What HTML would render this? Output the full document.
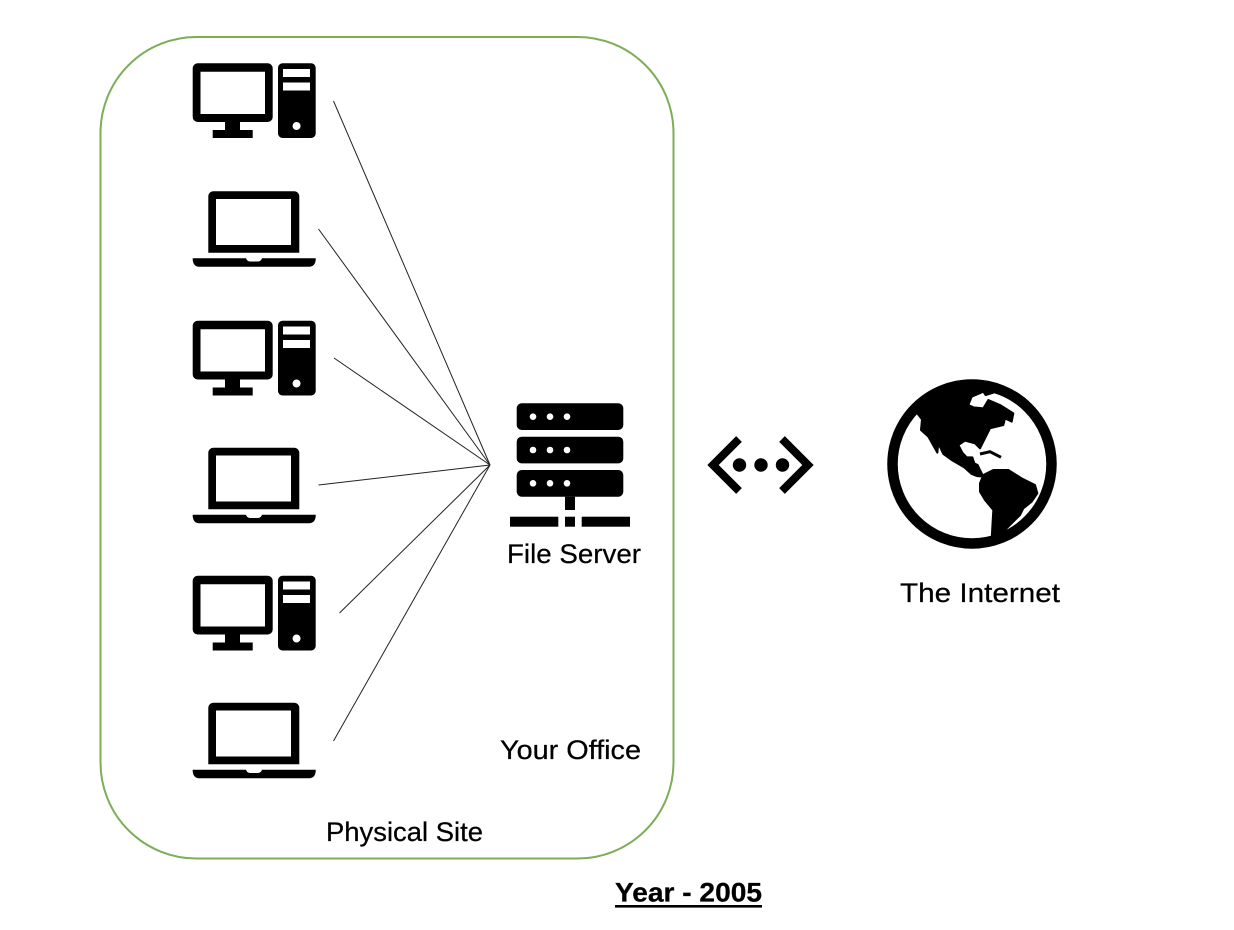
<!DOCTYPE html>
<html>
<head>
<meta charset="utf-8">
<style>
html,body{margin:0;padding:0;background:#fff;}
svg{display:block;}
text{font-family:"Liberation Sans",sans-serif;font-size:27px;fill:#000;stroke:#000;stroke-width:.25px;}
</style>
</head>
<body>
<svg width="1234" height="930" viewBox="0 0 1234 930" xmlns="http://www.w3.org/2000/svg">
<defs>
<g id="desk">
  <path fill-rule="evenodd" d="M198 63.3H267.7A5 5 0 0 1 272.7 68.3V117A5 5 0 0 1 267.7 122H240V130H252.7V138H212.7V130H225V122H197.7A5 5 0 0 1 192.7 117V68.3A5 5 0 0 1 197.7 63.3ZM200.5 71.7V114H265V71.7Z"/>
  <path fill-rule="evenodd" d="M282.5 63.3H311.2A4.5 4.5 0 0 1 315.7 67.8V133.5A4.5 4.5 0 0 1 311.2 138H282.5A4.5 4.5 0 0 1 278 133.5V67.8A4.5 4.5 0 0 1 282.5 63.3ZM283 69V77H310V69ZM283 82.5V90.5H310V82.5ZM296.5 122A4 4 0 1 0 296.6 130A4 4 0 1 0 296.5 122Z"/>
</g>
<g id="lap">
  <path fill-rule="evenodd" d="M213.3 191.3H294.3A5 5 0 0 1 299.3 196.3V252.7H208.3V196.3A5 5 0 0 1 213.3 191.3ZM216 199V245H291V199Z"/>
  <path d="M192.7 258.3H246Q247 261.5 250 261.5H258Q261 261.5 262 258.3H315.7V260Q315 266.7 309 266.7H199Q193.5 266.7 192.7 260Z"/>
</g>
<g id="srv">
  <rect x="516.7" width="106.6" height="26.7" rx="5"/>
</g>
</defs>

<rect x="100.5" y="37" width="573" height="821.5" rx="96" ry="96" fill="#fff" stroke="#7dad57" stroke-width="2"/>

<g stroke="#222" stroke-width="1" fill="none">
  <line x1="333.5" y1="101" x2="490" y2="465"/>
  <line x1="318.5" y1="229" x2="490" y2="465"/>
  <line x1="334" y1="358" x2="490" y2="465"/>
  <line x1="318.5" y1="485" x2="490" y2="465"/>
  <line x1="339.5" y1="613" x2="490" y2="465"/>
  <line x1="333.5" y1="741" x2="490" y2="465"/>
</g>

<use href="#desk"/>
<use href="#desk" y="257.5"/>
<use href="#desk" y="512.5"/>
<use href="#lap"/>
<use href="#lap" y="256.5"/>
<use href="#lap" y="511.5"/>

<!-- server -->
<use href="#srv" y="403.3"/>
<use href="#srv" y="436.7"/>
<use href="#srv" y="470"/>
<g fill="#fff">
  <circle cx="533" cy="416.7" r="3.3"/><circle cx="550" cy="416.7" r="3.3"/><circle cx="567" cy="416.7" r="3.3"/>
  <circle cx="533" cy="450" r="3.3"/><circle cx="550" cy="450" r="3.3"/><circle cx="567" cy="450" r="3.3"/>
  <circle cx="533" cy="483.3" r="3.3"/><circle cx="550" cy="483.3" r="3.3"/><circle cx="567" cy="483.3" r="3.3"/>
</g>
<rect x="565" y="496.7" width="10" height="13.3"/>
<rect x="510" y="516.7" width="48.3" height="10"/>
<rect x="565" y="516.7" width="10" height="10"/>
<rect x="581.7" y="516.7" width="48.3" height="10"/>

<!-- network -->
<polyline points="739,439 713,465 739,491" fill="none" stroke="#000" stroke-width="8"/>
<polyline points="782,439 808,465 782,491" fill="none" stroke="#000" stroke-width="8"/>
<circle cx="739.5" cy="465" r="6.7"/>
<circle cx="761" cy="465" r="6.7"/>
<circle cx="782.5" cy="465" r="6.7"/>

<!-- globe -->
<circle cx="972" cy="464" r="79.5" fill="#fff" stroke="#000" stroke-width="10.5"/>
<g transform="translate(875 370) scale(0.33333)" stroke="#000" stroke-width="6" stroke-linejoin="round">
  <path d="M127,130 L141,148 L138,180 L160,200 L187,248 L190,220 L205,252 L230,270 L268,292 L290,312 L305,318 L325,320 L315,300 L308,285 L298,280 L292,262 L275,262 L262,248 L250,225 L270,212 L300,220 L315,235 L330,205 L345,175 L385,165 L390,145 L410,155 L415,130 L375,105 L340,90 L325,115 L295,112 L280,105 L290,80 L325,65 L332,75 L355,68 L359,55 L291,45 L200,63 L117,120 Z"/>
  <path d="M325,315 L355,300 L400,300 L440,325 L480,345 L487,370 L470,395 L445,415 L435,435 L380,490 L375,510 L350,510 L352,470 L355,420 L330,390 L315,365 L315,340 Z"/>
  <polyline points="315,252 345,245 378,262" fill="none" stroke-width="9"/>
</g>

<text x="507" y="563" textLength="134" lengthAdjust="spacingAndGlyphs">File Server</text>
<text x="900" y="602" textLength="160" lengthAdjust="spacingAndGlyphs">The Internet</text>
<text x="500" y="759" textLength="141" lengthAdjust="spacingAndGlyphs">Your Office</text>
<text x="326" y="841" textLength="157" lengthAdjust="spacingAndGlyphs">Physical Site</text>
<text x="615" y="901.5" textLength="147" lengthAdjust="spacingAndGlyphs" font-weight="bold">Year - 2005</text>
<rect x="615" y="905" width="147" height="2.6"/>
</svg>
</body>
</html>
